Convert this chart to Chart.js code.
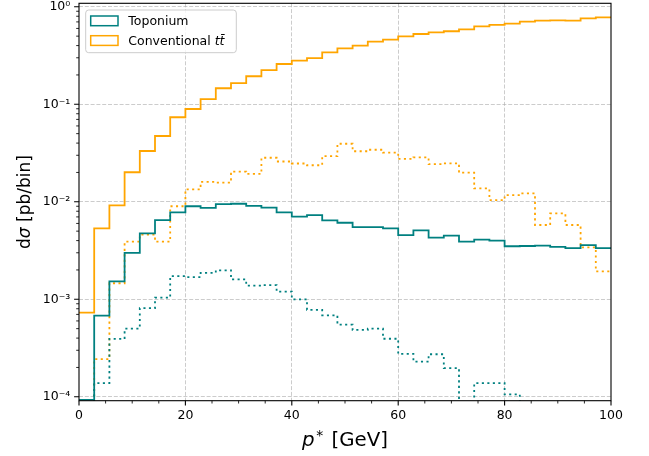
<!DOCTYPE html>
<html>
<head>
<meta charset="utf-8">
<script src="https://cdn.jsdelivr.net/npm/chart.js@4.4.1/dist/chart.umd.min.js"></script>
<style>
html,body{margin:0;padding:0;background:#fff;}
#wrap{width:649px;height:456px;}
canvas{display:block;}
</style>
</head>
<body>
<div id="wrap"><canvas id="c" width="649" height="456"></canvas></div>
<script>
// ---------------- data ----------------
const binEdges = [0, 2.857, 5.714, 8.571, 11.429, 14.286, 17.143, 20, 22.857, 25.714,
  28.571, 31.429, 34.286, 37.143, 40, 42.857, 45.714, 48.571, 51.429, 54.286,
  57.143, 60, 62.857, 65.714, 68.571, 71.429, 74.286, 77.143, 80, 82.857,
  85.714, 88.571, 91.429, 94.286, 97.143, 100];

// solid histograms
const toponium = [9.3e-5, 6.8e-4, 1.53e-3, 3.0e-3, 4.75e-3, 6.5e-3, 7.8e-3, 9.0e-3, 8.65e-3, 9.45e-3,
  9.55e-3, 9.1e-3, 8.7e-3, 7.8e-3, 7.05e-3, 7.3e-3, 6.45e-3, 6.1e-3, 5.5e-3, 5.5e-3,
  5.35e-3, 4.55e-3, 5.1e-3, 4.3e-3, 4.5e-3, 3.9e-3, 4.1e-3, 4.0e-3, 3.5e-3, 3.52e-3,
  3.55e-3, 3.45e-3, 3.35e-3, 3.6e-3, 3.35e-3];
const conventional = [7.3e-4, 5.35e-3, 9.2e-3, 0.0201, 0.0332, 0.0473, 0.0736, 0.0895, 0.113, 0.146,
  0.165, 0.194, 0.224, 0.259, 0.280, 0.298, 0.341, 0.375, 0.399, 0.439,
  0.460, 0.498, 0.526, 0.547, 0.561, 0.588, 0.631, 0.651, 0.671, 0.703,
  0.720, 0.727, 0.720, 0.762, 0.780];

// dotted histograms
const toponiumDotted = [0, 1.38e-4, 3.92e-4, 5.0e-4, 8.1e-4, 1.04e-3, 1.73e-3, 1.69e-3, 1.87e-3, 1.98e-3,
  1.60e-3, 1.38e-3, 1.40e-3, 1.20e-3, 1.0e-3, 7.8e-4, 6.85e-4, 5.5e-4, 4.85e-4, 5.0e-4,
  3.94e-4, 2.75e-4, 2.29e-4, 2.73e-4, 1.97e-4, 0, 1.38e-4, 1.38e-4, 1.06e-4, 0,
  0, 0, 0, 0, 0];
const conventionalDotted = [0, 2.44e-4, 1.46e-3, 3.9e-3, 4.6e-3, 3.9e-3, 9.0e-3, 0.0134, 0.0160, 0.0157,
  0.0204, 0.0193, 0.0283, 0.0259, 0.0247, 0.0237, 0.0294, 0.0394, 0.0330, 0.0342,
  0.0319, 0.0275, 0.0286, 0.0243, 0.0248, 0.0199, 0.0137, 0.0104, 0.0117, 0.0122,
  5.78e-3, 7.59e-3, 5.78e-3, 3.41e-3, 1.93e-3];

const xMajorTicks = [0, 20, 40, 60, 80, 100];
const xMinorTicks = [5, 10, 15, 25, 30, 35, 45, 50, 55, 65, 70, 75, 85, 90, 95];
const yDecades = [1e-4, 1e-3, 1e-2, 1e-1, 1];
const yTickLabels = ['10⁻⁴', '10⁻³', '10⁻²', '10⁻¹', '10⁰'];
const legendLabels = ['Toponium', 'Conventional '];
const yTitle = ['d', 'σ', ' [pb/bin]'];
const xTitle = ['p', '*', ' [GeV]'];

// ---------------- styling ----------------
const TEAL = '#008080';
const ORANGE = '#FFA500';
const FONT = '"DejaVu Sans", "Liberation Sans", sans-serif';
const GRID = 'rgba(176,176,176,0.65)';
const Y_MIN = 9.12e-5, Y_MAX = 1.086;
const BELOW = 1e-7; // empty bins fall below the axis

function stepPoints(vals) {
  return binEdges.map((e, i) => {
    const v = vals[Math.min(i, vals.length - 1)];
    return { x: e, y: v > 0 ? v : BELOW };
  });
}

const yMinor = [];
yDecades.forEach(d => { for (let m = 2; m <= 9; m++) { const v = d * m; if (v > Y_MIN && v < Y_MAX) yMinor.push(v); } });
const yAllTicks = yDecades.concat(yMinor).sort((a, b) => a - b);
function isDecade(v) { const l = Math.log10(v); return Math.abs(l - Math.round(l)) < 1e-9; }

const decor = {
  id: 'decor',
  afterDraw(chart) {
    const { ctx, chartArea: a, scales: { x, y } } = chart;
    ctx.save();
    // frame
    ctx.strokeStyle = '#000';
    ctx.lineWidth = 1.1;
    ctx.strokeRect(a.left, a.top, a.right - a.left, a.bottom - a.top);
    // tick marks
    ctx.beginPath();
    xMajorTicks.forEach(v => { const p = x.getPixelForValue(v); ctx.moveTo(p, a.bottom); ctx.lineTo(p, a.bottom + 4.9); });
    yDecades.forEach(v => { const p = y.getPixelForValue(v); ctx.moveTo(a.left, p); ctx.lineTo(a.left - 4.9, p); });
    ctx.lineWidth = 1.1; ctx.stroke();
    ctx.beginPath();
    xMinorTicks.forEach(v => { const p = x.getPixelForValue(v); ctx.moveTo(p, a.bottom); ctx.lineTo(p, a.bottom + 2.8); });
    yMinor.forEach(v => { const p = y.getPixelForValue(v); ctx.moveTo(a.left, p); ctx.lineTo(a.left - 2.8, p); });
    ctx.lineWidth = 0.85; ctx.stroke();

    // legend
    ctx.beginPath();
    ctx.roundRect(85.7, 10, 150.6, 42.7, 3);
    ctx.fillStyle = 'rgba(255,255,255,0.8)';
    ctx.fill();
    ctx.strokeStyle = '#cccccc';
    ctx.lineWidth = 1;
    ctx.stroke();
    ctx.lineWidth = 1.5;
    ctx.strokeStyle = TEAL;
    ctx.strokeRect(90.7, 16, 27.3, 9.7);
    ctx.strokeStyle = ORANGE;
    ctx.strokeRect(90.7, 35.7, 27.3, 9.7);
    ctx.fillStyle = '#000';
    ctx.textBaseline = 'alphabetic';
    ctx.textAlign = 'left';
    ctx.font = '12.5px ' + FONT;
    ctx.fillText(legendLabels[0], 128.3, 25.3);
    ctx.fillText(legendLabels[1], 128.3, 45.3);
    const w1 = ctx.measureText(legendLabels[1]).width;
    ctx.font = 'italic 12.5px ' + FONT;
    ctx.fillText('tt\u0304', 128.3 + w1, 45.3);

    // y title
    ctx.save();
    ctx.translate(29.5, (a.top + a.bottom) / 2);
    ctx.rotate(-Math.PI / 2);
    const fN = '17px ' + FONT, fI = 'italic 17px ' + FONT;
    ctx.font = fN; const wd = ctx.measureText(yTitle[0]).width;
    ctx.font = fI; const ws = ctx.measureText(yTitle[1]).width;
    ctx.font = fN; const wr = ctx.measureText(yTitle[2]).width;
    let sx = -(wd + ws + wr) / 2;
    ctx.font = fN; ctx.fillText(yTitle[0], sx, 0); sx += wd;
    ctx.font = fI; ctx.fillText(yTitle[1], sx, 0); sx += ws;
    ctx.font = fN; ctx.fillText(yTitle[2], sx, 0);
    ctx.restore();

    // x title
    const bN = '19.8px ' + FONT, bI = 'italic 19.8px ' + FONT, bS = '13.9px ' + FONT;
    ctx.font = bI; const wp = ctx.measureText(xTitle[0]).width;
    ctx.font = bS; const wst = ctx.measureText(xTitle[1]).width;
    ctx.font = bN; const wg = ctx.measureText(xTitle[2]).width;
    const tot = wp + 1.5 + wst + 2 + wg;
    let tx = (a.left + a.right) / 2 - tot / 2;
    const by = 445.6;
    ctx.font = bI; ctx.fillText(xTitle[0], tx, by); tx += wp + 1.5;
    ctx.font = bS; ctx.fillText(xTitle[1], tx, by - 5.5); tx += wst + 2;
    ctx.font = bN; ctx.fillText(xTitle[2], tx, by);
    ctx.restore();
  }
};

const lineBase = { pointRadius: 0, pointHoverRadius: 0, fill: false, tension: 0, stepped: 'before', borderWidth: 1.8 };

new Chart(document.getElementById('c'), {
  type: 'line',
  data: {
    datasets: [
      Object.assign({ label: 'Toponium', data: stepPoints(toponium), borderColor: TEAL }, lineBase),
      Object.assign({ label: 'Conventional tt̄', data: stepPoints(conventional), borderColor: ORANGE }, lineBase),
      Object.assign({ label: 'Toponium (dotted)', data: stepPoints(toponiumDotted), borderColor: TEAL, borderDash: [2.1, 3.4] }, lineBase),
      Object.assign({ label: 'Conventional (dotted)', data: stepPoints(conventionalDotted), borderColor: ORANGE, borderDash: [2.1, 3.4] }, lineBase)
    ]
  },
  options: {
    responsive: false,
    animation: false,
    devicePixelRatio: 1,
    layout: { padding: { left: 0, right: 38, top: 3.3, bottom: 0 } },
    plugins: { legend: { display: false }, tooltip: { enabled: false } },
    scales: {
      x: {
        type: 'linear', min: 0, max: 100,
        afterBuildTicks: s => { s.ticks = xMajorTicks.concat(xMinorTicks).sort((a, b) => a - b).map(v => ({ value: v })); },
        ticks: {
          autoSkip: false, maxRotation: 0, minRotation: 0, padding: 8,
          color: '#000', font: { family: FONT, size: 12.5 },
          callback: v => xMajorTicks.includes(v) ? String(v) : ''
        },
        grid: {
          drawTicks: false, lineWidth: 1,
          color: c => (c.tick && xMajorTicks.includes(c.tick.value) && c.tick.value !== 0 && c.tick.value !== 100) ? GRID : 'rgba(0,0,0,0)'
        },
        border: { display: false, dash: [4, 1.8] },
        afterFit: s => { s.height = 55.3; s.paddingLeft = 0; s.paddingRight = 0; }
      },
      y: {
        type: 'logarithmic', min: Y_MIN, max: Y_MAX,
        afterBuildTicks: s => { s.ticks = yAllTicks.map(v => ({ value: v })); },
        ticks: {
          autoSkip: false, padding: 8.7,
          color: '#000', font: { family: FONT, size: 12.5 },
          callback: v => { const i = yDecades.findIndex(d => Math.abs(d - v) / d < 1e-9); return i >= 0 ? yTickLabels[i] : ''; }
        },
        grid: {
          drawTicks: false, lineWidth: 1,
          color: c => (c.tick && isDecade(c.tick.value)) ? GRID : 'rgba(0,0,0,0)'
        },
        border: { display: false, dash: [4, 1.8] },
        afterFit: s => { s.width = 79; s.paddingTop = 0; s.paddingBottom = 0; }
      }
    }
  },
  plugins: [decor]
});
</script>
</body>
</html>
